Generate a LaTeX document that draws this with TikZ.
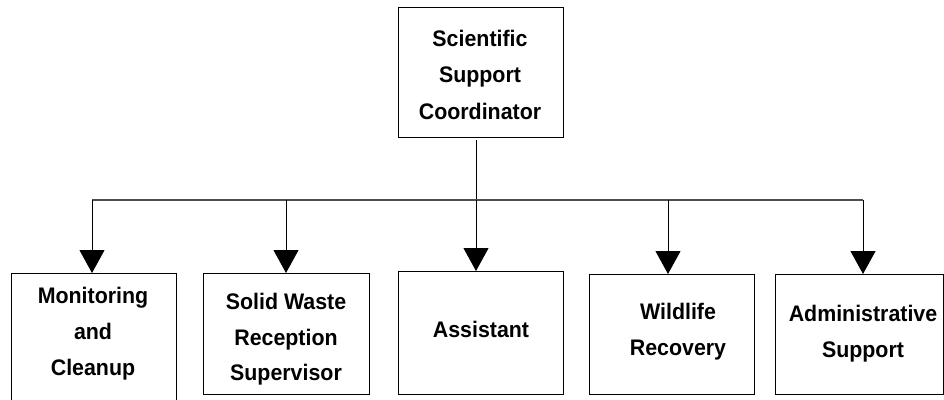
\documentclass[tikz,border=0pt]{standalone}
\usepackage{fontspec}
\setmainfont{Liberation Sans}
\newfontfamily\boxfont{Liberation Sans}[FakeStretch=0.95]
\usetikzlibrary{arrows.meta}

\tikzset{
  orgbox/.style={draw=black, line width=1pt, fill=none},
  boxtext/.style={font=\boxfont\fontsize{22.5}{36}\selectfont\bfseries, anchor=base, inner sep=0pt},
  feed/.style={draw=black, line width=1pt, -{Triangle[length=23pt,width=25pt]}},
  bus/.style={draw=black!70, line width=1.6pt},
  trunk/.style={draw=black, line width=1pt}
}

\begin{document}
\begin{tikzpicture}[x=1pt, y=-1pt]
  \useasboundingbox (0,0) rectangle (944,399);

  % boxes
  \draw[orgbox] (398,7) rectangle (563,137);
  \draw[orgbox] (11,273) rectangle (176,404);
  \draw[orgbox] (203,273) rectangle (369,394);
  \draw[orgbox] (398,271) rectangle (563,394);
  \draw[orgbox] (589,274) rectangle (754,394);
  \draw[orgbox] (775,274) rectangle (943,394);

  % box texts
  \node[boxtext] (s1) at (480,46) {Scientific};
  \node[boxtext] (s2) at (480,82.5) {Support};
  \node[boxtext] (s3) at (480,119) {Coordinator};

  \node[boxtext] (m1) at (93,303) {Monitoring};
  \node[boxtext] (m2) at (93,339) {and};
  \node[boxtext] (m3) at (93,375) {Cleanup};

  \node[boxtext] (w1) at (286,309) {Solid Waste};
  \node[boxtext] (w2) at (286,345) {Reception};
  \node[boxtext] (w3) at (286,380) {Supervisor};

  \node[boxtext] (a1) at (481,337) {Assistant};

  \node[boxtext] (r1) at (678,319) {Wildlife};
  \node[boxtext] (r2) at (678,355) {Recovery};

  \node[boxtext] (d1) at (863,321) {Administrative};
  \node[boxtext] (d2) at (863,357) {Support};

  % connector points
  \coordinate (top) at (476,140);
  \coordinate (hub) at (476,200);
  \coordinate (busL) at (92,200);
  \coordinate (busR) at (863,200);
  \coordinate (j1) at (92,200);
  \coordinate (j2) at (286,200);
  \coordinate (j3) at (476,200);
  \coordinate (j4) at (668,200);
  \coordinate (j5) at (863,200);
  \coordinate (e1) at (92,273);
  \coordinate (e2) at (286,273);
  \coordinate (e3) at (476,271);
  \coordinate (e4) at (668,274);
  \coordinate (e5) at (863,274);

  % connectors
  \draw[trunk] (top) -- (hub);
  \draw[bus] (busL) -- (busR);
  \draw[feed] (j1) -- (e1);
  \draw[feed] (j2) -- (e2);
  \draw[feed] (j3) -- (e3);
  \draw[feed] (j4) -- (e4);
  \draw[feed] (j5) -- (e5);
\end{tikzpicture}
\end{document}
